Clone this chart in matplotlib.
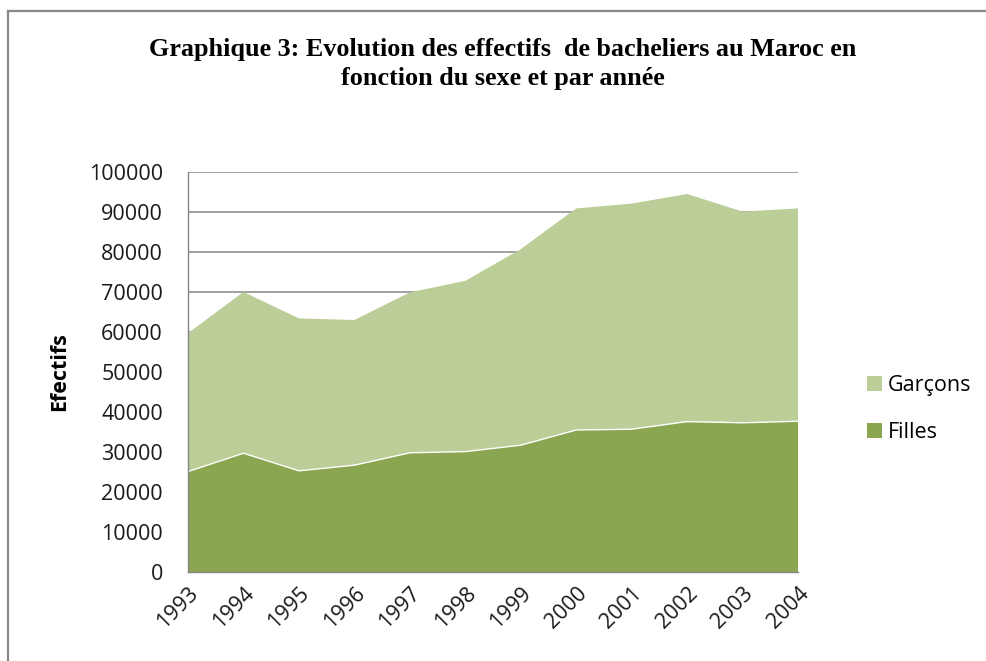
import matplotlib
matplotlib.use("Agg")
import matplotlib.pyplot as plt
from matplotlib.patches import Patch

years = [1993, 1994, 1995, 1996, 1997, 1998, 1999, 2000, 2001, 2002, 2003, 2004]
filles = [25100, 29700, 25300, 26700, 29800, 30100, 31700, 35500, 35700, 37600, 37300, 37700]
garcons = [34600, 40300, 38100, 36300, 40100, 42700, 49000, 55400, 56400, 56900, 52800, 53200]
yticks = list(range(0, 100001, 10000))

title = "Graphique 3: Evolution des effectifs  de bacheliers au Maroc en\nfonction du sexe et par année"

c_filles = "#8AA650"
c_garcons = "#BBCE97"
grid_c = "#868686"
sans = ["Open Sans", "DejaVu Sans"]
fs = 15.5

fig = plt.figure(figsize=(9.87, 6.61), dpi=100)
ax = fig.add_axes([188/987, 1-572/661, (798-188)/987, (572-172)/661])

ax.stackplot(years, filles, garcons, colors=[c_filles, c_garcons],
             labels=["Filles", "Garçons"], linewidth=0, zorder=2)
ax.plot(years, filles, color="white", lw=1.0, zorder=3)

ax.set_xlim(years[0], years[-1])
ax.set_ylim(0, 100000)
ax.set_yticks(yticks)
ax.set_yticklabels([str(v) for v in yticks], fontfamily=sans, fontsize=fs, color="#1a1a1a")
ax.set_xticks(years)
ax.set_xticklabels([str(y) for y in years], fontfamily=sans, fontsize=fs,
                   rotation=45, ha="right", va="top", rotation_mode="anchor", color="#1a1a1a")
ax.tick_params(axis="y", length=0, pad=18)
ax.tick_params(axis="x", length=0, pad=8)

ax.grid(axis="y", color=grid_c, lw=1.1, zorder=0)
ax.set_axisbelow(True)
for s in ["top", "right"]:
    ax.spines[s].set_visible(False)
for s in ["left", "bottom"]:
    ax.spines[s].set_color(grid_c)
    ax.spines[s].set_linewidth(1.0)
    ax.spines[s].set_zorder(4)

ax.set_ylabel("Efectifs", fontfamily=sans, fontsize=fs, fontweight="bold")
ax.yaxis.set_label_coords(-0.193, 0.5)

fig.text(503/987, 1-64/661, title, ha="center", va="center",
         fontfamily=["Liberation Serif", "DejaVu Serif"], fontweight="bold",
         fontsize=18.8, linespacing=1.3)

handles = [Patch(facecolor=c_garcons), Patch(facecolor=c_filles)]
fig.legend(handles, ["Garçons", "Filles"], loc="center left",
           bbox_to_anchor=(848/987, 1-409/661), frameon=False,
           handlelength=0.7, handleheight=0.7, handletextpad=0.25,
           labelspacing=1.2, prop={"family": sans, "size": fs})

# chart-area border (left and top visible)
fig.add_artist(plt.Line2D([8/987, 8/987], [0, 1-11/661], transform=fig.transFigure,
                          color="#888888", lw=1.6))
fig.add_artist(plt.Line2D([8/987, 1], [1-11/661, 1-11/661], transform=fig.transFigure,
                          color="#888888", lw=1.6))

fig.savefig("out.png", dpi=100)
